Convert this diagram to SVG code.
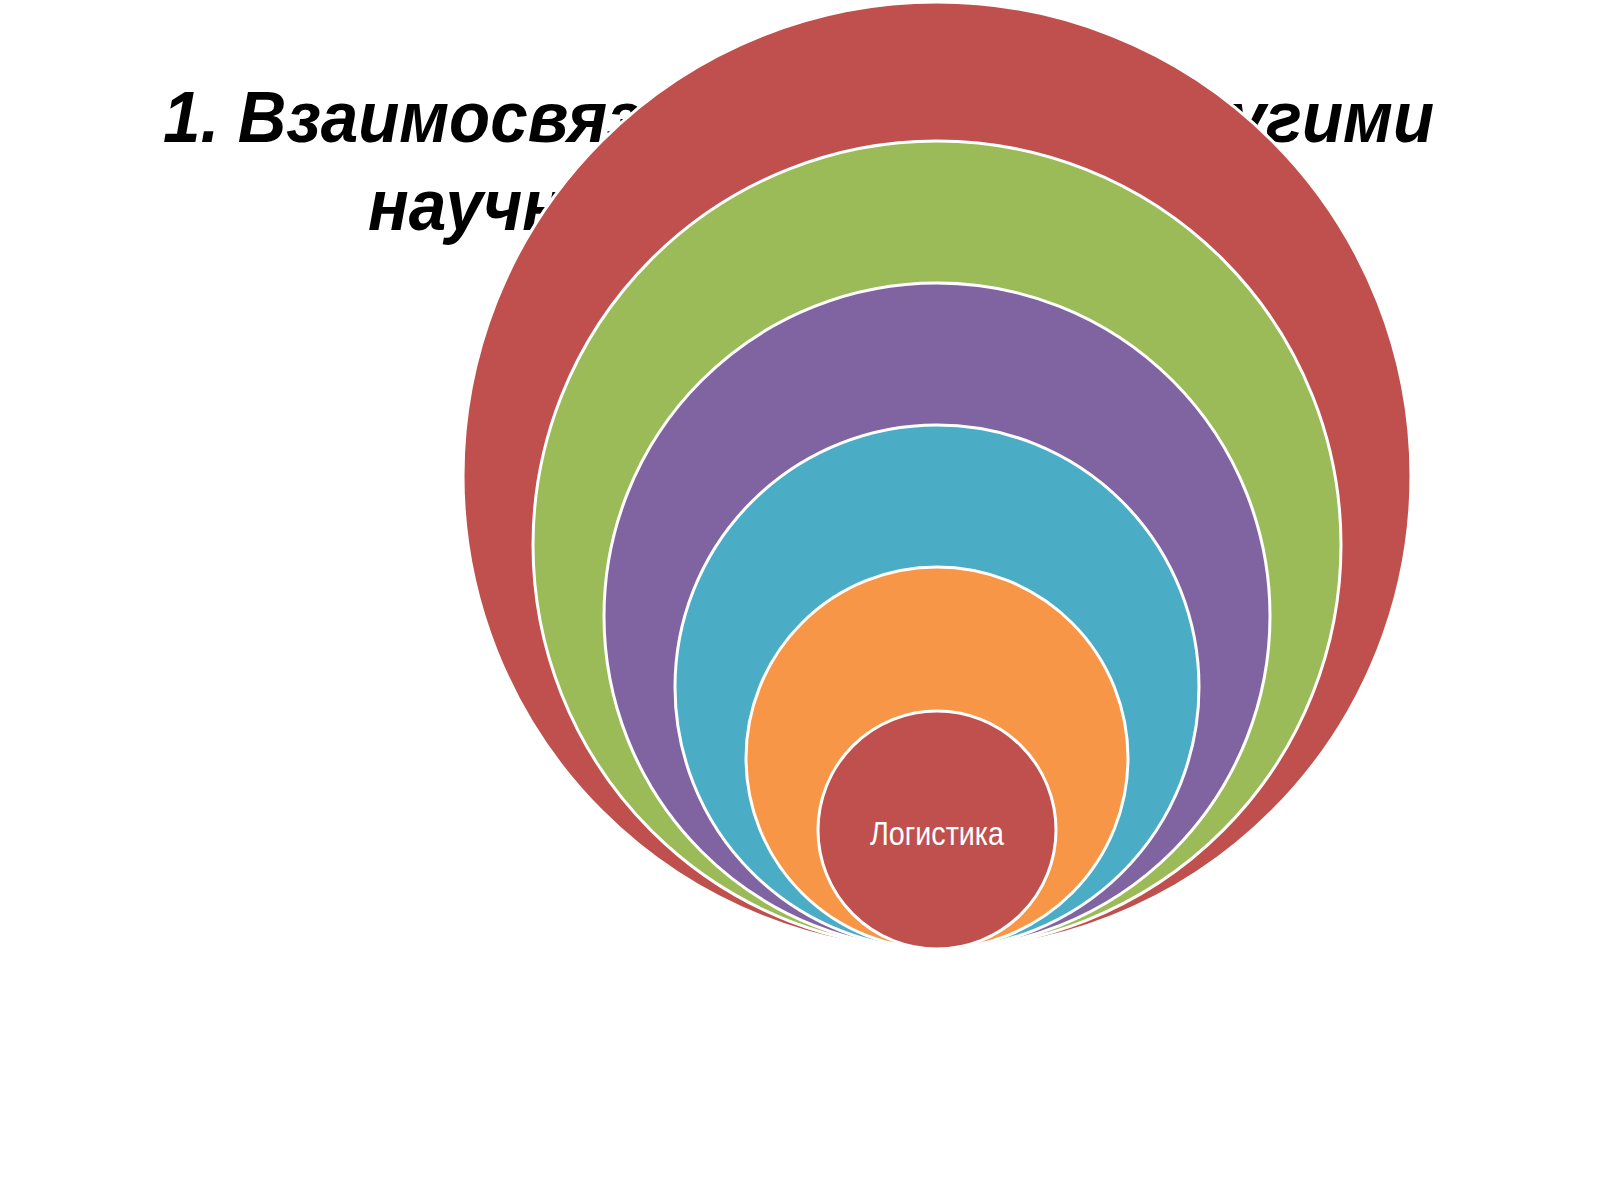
<svg xmlns="http://www.w3.org/2000/svg" width="1600" height="1200" viewBox="0 0 1600 1200">
<style>
.title{font-family:"Liberation Sans Narrow","Liberation Sans",Arial,sans-serif;font-weight:bold;font-style:italic;font-size:72px;fill:#000}
.ring{stroke:#ffffff;stroke-width:3}
.lbl{font-family:"Liberation Sans Narrow","Liberation Sans",Arial,sans-serif;font-size:33px;fill:#ffffff;text-anchor:middle}
</style>
<rect width="1600" height="1200" fill="#ffffff"/>
<g id="title">
<text class="title" x="163" y="142" textLength="1271" lengthAdjust="spacingAndGlyphs">1. Взаимосвязь логистики с другими</text>
<text class="title" x="368" y="230" textLength="862" lengthAdjust="spacingAndGlyphs">научными дисциплинами</text>
</g>
<g id="connectors"></g>
<g id="circle1"><circle class="ring" cx="937" cy="476" r="474" fill="#C0504D"/></g>
<g id="circle2"><circle class="ring" cx="937" cy="545" r="404" fill="#9BBB59"/></g>
<g id="circle3"><circle class="ring" cx="937" cy="616" r="333" fill="#8064A2"/></g>
<g id="circle4"><circle class="ring" cx="937" cy="687" r="262" fill="#4BACC6"/></g>
<g id="circle5"><circle class="ring" cx="937" cy="758" r="191" fill="#F79646"/></g>
<g id="logistics"><circle class="ring" cx="937" cy="830" r="119" fill="#C0504D"/>
<text class="lbl" x="937" y="845" textLength="134" lengthAdjust="spacingAndGlyphs">Логистика</text></g>
</svg>
